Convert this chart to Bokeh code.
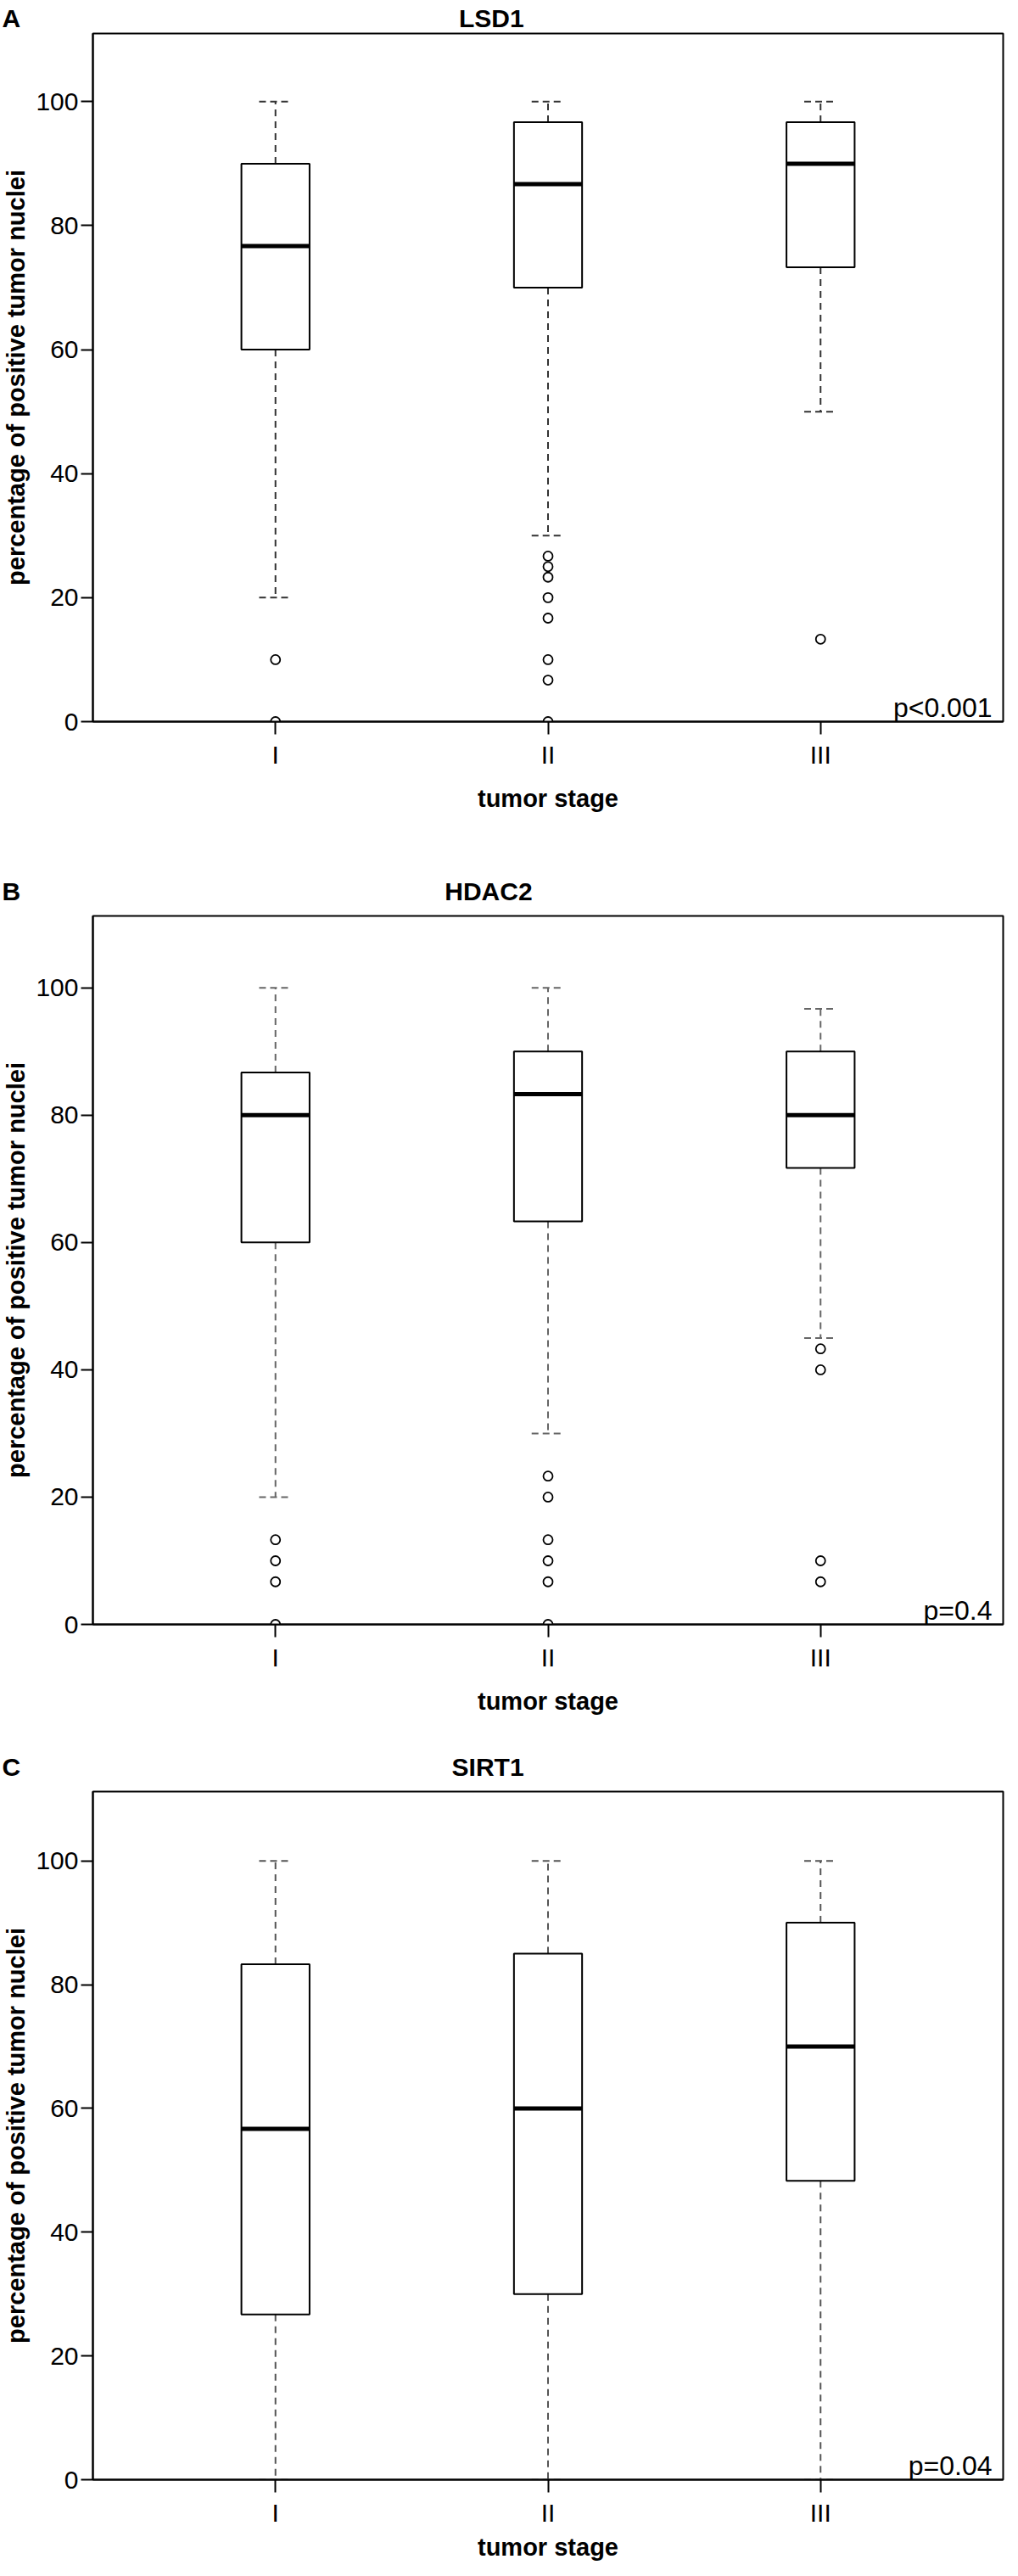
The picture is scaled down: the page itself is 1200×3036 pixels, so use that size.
from bokeh.plotting import figure
from bokeh.models import Label, FixedTicker, Range1d, Title
from bokeh.layouts import column
from bokeh.embed import file_html
from bokeh.resources import INLINE

# ---------------- data ----------------
stages = ["I", "II", "III"]
y_ticks = [0, 20, 40, 60, 80, 100]

lsd1_hi = [100, 100, 100]
lsd1_q3 = [90, 96.7, 96.7]
lsd1_med = [76.7, 86.7, 90]
lsd1_q1 = [60, 70, 73.3]
lsd1_lo = [20, 30, 50]
lsd1_out = [[10, 0], [26.7, 25, 23.3, 20, 16.7, 10, 6.7, 0], [13.3]]
lsd1_p = "p<0.001"

hdac2_hi = [100, 100, 96.7]
hdac2_q3 = [86.7, 90, 90]
hdac2_med = [80, 83.3, 80]
hdac2_q1 = [60, 63.3, 71.7]
hdac2_lo = [20, 30, 45]
hdac2_out = [[13.3, 10, 6.7, 0], [23.3, 20, 13.3, 10, 6.7, 0], [43.3, 40, 10, 6.7]]
hdac2_p = "p=0.4"

sirt1_hi = [100, 100, 100]
sirt1_q3 = [83.3, 85, 90]
sirt1_med = [56.7, 60, 70]
sirt1_q1 = [26.7, 30, 48.3]
sirt1_lo = [0, 0, 0]
sirt1_out = [[], [], []]
sirt1_p = "p=0.04"

FONT = "Liberation Sans"
X0, X1 = 0.33, 3.67
NBSP = "\u00a0"


def make_panel(letter, name, gap, title_standoff, hi, q3, med, q1, lo, outs, pval, ymax,
               border_top, frame_h, border_bottom, xlab_standoff, wcol):
    W = 1184
    p = figure(width=W, height=border_top + frame_h + border_bottom,
               x_range=Range1d(X0, X1), y_range=Range1d(0, ymax),
               output_backend="svg", toolbar_location=None,
               min_border_left=108, min_border_right=2,
               min_border_top=border_top, min_border_bottom=border_bottom,
               background_fill_color="white", border_fill_color="white")
    # panel letter + title on one line (letter at far left, title near centre)
    p.title = Title(text=letter + NBSP * gap + name, align="left", offset=-107,
                    standoff=title_standoff,
                    text_font=FONT, text_font_style="bold", text_font_size="30px",
                    text_color="black")
    p.grid.visible = False
    p.outline_line_color = "black"
    p.outline_line_width = 2

    xs = [i + 1 for i in range(len(stages))]
    bw = 0.25
    cw = 0.06

    # whiskers
    p.segment(x0=xs, y0=q3, x1=xs, y1=hi, line_color=wcol, line_width=2, line_dash="8 6")
    p.segment(x0=xs, y0=q1, x1=xs, y1=lo, line_color=wcol, line_width=2, line_dash="8 6")
    p.segment(x0=[x - cw for x in xs], y0=hi, x1=[x + cw for x in xs], y1=hi,
              line_color=wcol, line_width=2, line_dash="8 5")
    p.segment(x0=[x - cw for x in xs], y0=lo, x1=[x + cw for x in xs], y1=lo,
              line_color=wcol, line_width=2, line_dash="8 5")
    # boxes
    p.quad(left=[x - bw / 2 for x in xs], right=[x + bw / 2 for x in xs],
           bottom=q1, top=q3, fill_color="white", line_color="black", line_width=2)
    # medians
    p.segment(x0=[x - bw / 2 for x in xs], y0=med, x1=[x + bw / 2 for x in xs], y1=med,
              line_color="black", line_width=5)
    # outliers
    ox, oy = [], []
    for x, vals in zip(xs, outs):
        for v in vals:
            ox.append(x)
            oy.append(v)
    if ox:
        p.scatter(x=ox, y=oy, marker="circle", size=11, fill_color="white",
                  line_color="black", line_width=1.8)

    # axes
    p.xaxis.ticker = FixedTicker(ticks=xs)
    p.xaxis.major_label_overrides = dict(zip(xs, stages))
    p.yaxis.ticker = FixedTicker(ticks=y_ticks)
    for ax in (p.xaxis, p.yaxis):
        ax.axis_line_color = "black"
        ax.axis_line_width = 2
        ax.major_tick_line_color = "black"
        ax.major_tick_line_width = 2
        ax.major_tick_in = 0
        ax.major_tick_out = 15
        ax.minor_tick_line_color = None
        ax.major_label_text_font = FONT
        ax.major_label_text_font_size = "30px"
        ax.major_label_text_color = "black"
        ax.axis_label_text_font = FONT
        ax.axis_label_text_font_style = "bold"
        ax.axis_label_text_font_size = "29px"
        ax.axis_label_text_color = "black"
    p.yaxis.major_tick_out = 14
    p.yaxis.major_label_standoff = 3
    p.yaxis.axis_label = "percentage of positive tumor nuclei"
    p.yaxis.axis_label_standoff = 4
    p.xaxis.major_label_standoff = 7
    p.xaxis.axis_label = "tumor stage"
    p.xaxis.axis_label_standoff = xlab_standoff

    # p value
    p.add_layout(Label(x=X1, y=0, x_offset=-13, y_offset=17, text=pval,
                       text_font=FONT, text_font_size="32px",
                       text_align="right", text_baseline="alphabetic", text_color="black"))
    return p


pa = make_panel("A", "LSD1", 62, 4, lsd1_hi, lsd1_q3, lsd1_med, lsd1_q1, lsd1_lo, lsd1_out, lsd1_p,
                111, 38, 812, 142, 16, "#333333")
pb = make_panel("B", "HDAC2", 60, 25, hdac2_hi, hdac2_q3, hdac2_med, hdac2_q1, hdac2_lo, hdac2_out, hdac2_p,
                111.3, 87, 835, 123, 16, "#666666")
pc = make_panel("C", "SIRT1", 61, 25, sirt1_hi, sirt1_q3, sirt1_med, sirt1_q1, sirt1_lo, sirt1_out, sirt1_p,
                111.2, 74, 812, 97, 5, "#555555")

layout = column(pa, pb, pc, spacing=0)
open("out.html", "w").write(file_html(layout, INLINE))
